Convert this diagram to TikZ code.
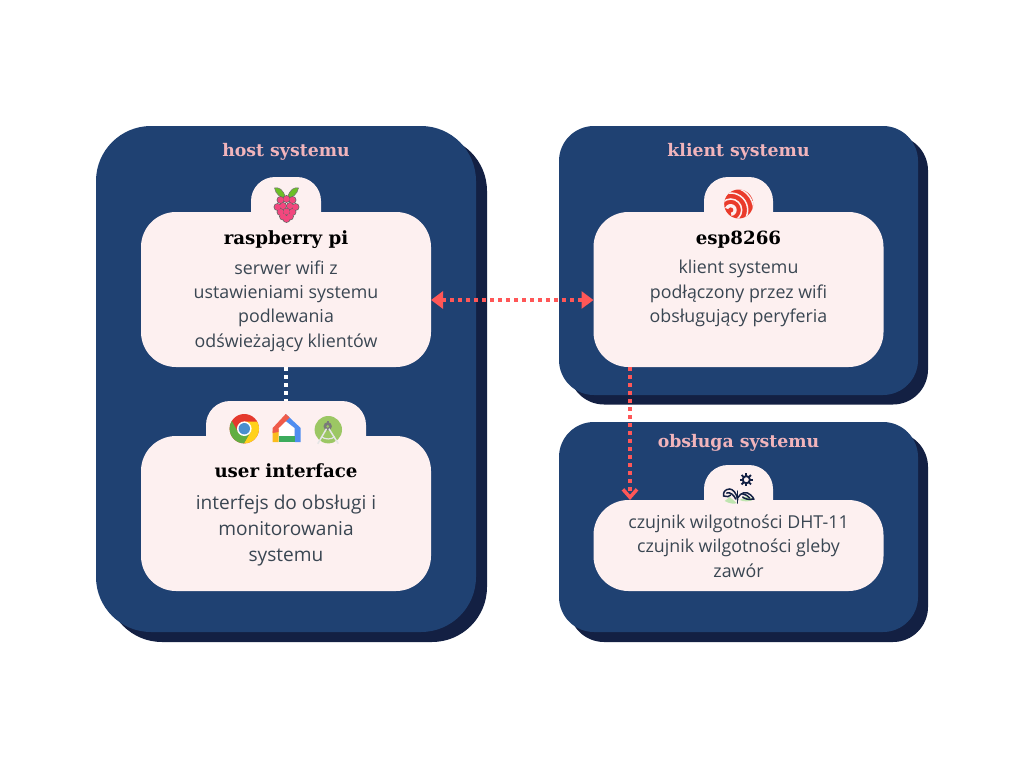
\documentclass[tikz,border=0pt]{standalone}
\usepackage{fontspec}
\usetikzlibrary{arrows.meta,calc}
\setmainfont{Open Sans}
\newfontfamily\slabfont[Scale=1]{DejaVu Serif}
\definecolor{panel}{HTML}{1F4172}
\definecolor{panelshadow}{HTML}{132043}
\definecolor{cardfill}{HTML}{FDF0F0}
\definecolor{titlepink}{HTML}{F1B4BB}
\definecolor{bodyink}{HTML}{3A4652}
\definecolor{linkred}{HTML}{FF5757}
\definecolor{gred}{HTML}{E5392D}
\definecolor{gyellow}{HTML}{FFD11A}
\definecolor{ggreen}{HTML}{62AE41}
\definecolor{gblue}{HTML}{4A8FCF}
\definecolor{hblue}{HTML}{4E8DF0}
\definecolor{hred}{HTML}{EF5B4A}
\definecolor{hyellow}{HTML}{FBBC1C}
\definecolor{hgreen}{HTML}{3CAB5C}
\definecolor{astudio}{HTML}{9CC764}
\definecolor{aplant}{HTML}{BFE5B0}
\definecolor{rleaf}{HTML}{6CBF26}
\definecolor{rpink}{HTML}{F2477E}
\definecolor{espred}{HTML}{EA3B2B}
\tikzset{
  x=1pt,y=-1pt,
  panelbox/.style={fill=panel,rounded corners=#1,inner sep=0,outer sep=0},
  shadowbox/.style={fill=panelshadow,rounded corners=#1,inner sep=0,outer sep=0},
  cardbox/.style={fill=cardfill,rounded corners=35pt,inner sep=0,outer sep=0,minimum width=290pt},
  tabbox/.style={fill=cardfill,rounded corners=24pt,inner sep=0,outer sep=0,minimum height=60pt},
  paneltitle/.style={font=\slabfont\bfseries\fontsize{17.3}{20}\selectfont,text=titlepink,inner sep=0},
  cardtitle/.style={font=\slabfont\bfseries\fontsize{18.2}{22}\selectfont,text=black,inner sep=0},
  cardtext/.style={font=\fontsize{17.8}{24.4}\selectfont,text=bodyink,align=center,inner sep=0},
  widetext/.style={cardtext,font=\fontsize{19.1}{26}\selectfont},
  reddots/.style={draw=linkred,line width=4pt,dash pattern=on 4pt off 4pt},
}
\begin{document}
\begin{tikzpicture}
\useasboundingbox (0,0) rectangle (1024,768);
\fill[white] (0,0) rectangle (1024,768);
% panels
\node[shadowbox=55pt,minimum width=380pt,minimum height=506pt] (hostshadow) at (297,389) {};
\node[panelbox=55pt,minimum width=380pt,minimum height=506pt] (host) at (286,379) {};
\node[shadowbox=35pt,minimum width=359pt,minimum height=269pt] (clientshadow) at (748.5,270) {};
\node[panelbox=35pt,minimum width=359pt,minimum height=269pt] (client) at (738.5,260.5) {};
\node[shadowbox=35pt,minimum width=359pt,minimum height=210pt] (serviceshadow) at (748.5,537) {};
\node[panelbox=35pt,minimum width=359pt,minimum height=210pt] (service) at (738.5,527) {};
% tabs
\node[tabbox,minimum width=70pt] (rpitab) at (286,207) {};
\node[tabbox,minimum width=160pt] (uitab) at (286,431) {};
\node[tabbox,minimum width=69pt] (esptab) at (738.5,207) {};
\node[tabbox,minimum width=69pt] (sensortab) at (738.5,495) {};
% cards
\node[cardbox,minimum height=155pt] (rpi) at (286,289.5) {};
\node[cardbox,minimum height=155pt] (ui) at (286,513.5) {};
\node[cardbox,minimum height=155pt] (esp) at (738.5,289.5) {};
\node[cardbox,minimum height=91pt] (sensor) at (738.5,545.5) {};
% connectors
\draw[draw=white,line width=4pt,dash pattern=on 4pt off 4pt] (rpi.south) -- (uitab.north);
\coordinate (linky) at (0,300);
\coordinate (linkx) at (630,0);
\draw[reddots,{Triangle[length=12pt,width=17pt]}-{Triangle[length=12pt,width=17pt]}] (rpi.east |- linky) -- (esp.west |- linky);
\draw[reddots,-{Straight Barb[length=8pt,width=14pt,line width=3.5pt]}] (esp.south -| linkx) -- (sensor.north -| linkx);
% texts
\node[paneltitle] (hosttitle) at (286,151.5) {host systemu};
\node[paneltitle] (clienttitle) at (738.5,151.5) {klient systemu};
\node[paneltitle] (servicetitle) at (738.5,442.5) {obsługa systemu};
\node[cardtitle] (rpititle) at (286,239.5) {raspberry pi};
\node[cardtitle] (uititle) at (286,471) {user interface};
\node[cardtitle] (esptitle) at (738.5,239.5) {esp8266};
\node[cardtext] (rpitext) at (286,306) {serwer wifi z\\ustawieniami systemu\\podlewania\\odświeżający klientów};
\node[widetext] (uitext) at (286,530.5) {interfejs do obsługi i\\monitorowania\\systemu};
\node[cardtext] (esptext) at (738.5,293.5) {klient systemu\\podłączony przez wifi\\obsługujący peryferia};
\node[cardtext] (sensortext) at (738.5,546) {czujnik wilgotności DHT-11\\czujnik wilgotności gleby\\zawór};
% raspberry icon
\begin{scope}[shift={(286.5,207)}]
  \fill[rleaf,draw=black!55,line width=.5pt] (-1,-9) .. controls (-3,-18) and (-8,-20) .. (-12,-19) .. controls (-11,-13) and (-6,-9) .. (-1,-9);
  \fill[rleaf,draw=black!55,line width=.5pt] (1,-9) .. controls (3,-18) and (8,-20) .. (12,-19) .. controls (11,-13) and (6,-9) .. (1,-9);
  \foreach \ax/\ay in {-6/-7,0/-8,6/-7,-9/0,-3.5/-1,3.5/-1,9/0,-6/5,0/4.5,6/5,-3.5/9.5,3.5/9.5,0/12}
    \fill[black!60] (\ax,\ay) circle (3.9);
  \foreach \ax/\ay in {-6/-7,0/-8,6/-7,-9/0,-3.5/-1,3.5/-1,9/0,-6/5,0/4.5,6/5,-3.5/9.5,3.5/9.5,0/12}
    \fill[rpink] (\ax,\ay) circle (3.1);
\end{scope}
% chrome icon
\begin{scope}[shift={(244.3,428.7)}]
  \begin{scope}
    \clip (0,0) circle (14.7);
    \fill[gred] (-20,-20) rectangle (20,20);
    \fill[gyellow] (0,-7) -- (20,-7) -- (20,25) -- (-6.3,25) -- (6.1,3.5) -- cycle;
    \fill[ggreen] (6.1,3.5) -- (-6.3,25) -- (-25,25) -- (-25,-18) -- (-18.5,-18) -- (-6.1,3.5) -- cycle;
  \end{scope}
  \fill[white] (0,0) circle (7.3);
  \fill[gblue] (0,0) circle (5.7);
\end{scope}
% home icon
\begin{scope}[shift={(286.7,428)}]
  \fill[white] (-8,14) -- (-8,1) -- (-1,-7) -- (8,1) -- (8,14) -- cycle;
  \fill[hblue] (-1,-14) -- (14,0) -- (14,14) -- (8,14) -- (8,0) -- (-1,-7) -- cycle;
  \fill[hyellow] (-14,3) -- (-8,1) -- (-8,14) -- (-14,14) -- cycle;
  \fill[hred] (-1,-14) -- (3,-10.5) -- (-8,0) -- (-8,4) -- (-14,5) -- (-14,0) -- cycle;
  \fill[hgreen] (-8,8) -- (8,8) -- (8,14) -- (-8,14) -- cycle;
\end{scope}
% android studio icon
\begin{scope}[shift={(328.3,429.7)}]
  \fill[astudio] (0,0) circle (13.7);
  \fill[black!52] (-0.6,-3.4) circle (4.2);
  \fill[black!52] (-1.8,-9) rectangle (0.6,-5);
  \fill[astudio] (-0.6,-3.4) circle (1.5);
  \draw[white!90!black,line width=1.5pt] (-1.8,-1) -- (-10.5,14) (0.6,-1) -- (10,14);
  \draw[white!90!black,line width=1.2pt] (-7,7) .. controls (-3,10) and (3,10) .. (6.5,7);
\end{scope}
% esp icon
\begin{scope}[shift={(738.7,204)}]
  \fill[espred] (0,0) circle (14.5);
  \begin{scope}
    \clip (0,0) circle (14.5);
    \clip (-8,6) -- (-30,-2) -- (-30,-30) -- (30,-30) -- (30,30) -- (-5,30) -- cycle;
    \foreach \rr in {11,17,23}
      \draw[cardfill,line width=1.5pt] (-8,6) circle (\rr);
    \fill[cardfill] (-8,6) circle (6);
  \end{scope}
  \fill[espred] (-8,6) circle (2.6);
\end{scope}
% plant icon
\begin{scope}[shift={(737.7,496)}]
  \fill[aplant] (-13,5) .. controls (-8,8) and (-3,8) .. (-1,7) -- (-8,1) -- cycle;
  \fill[aplant] (17,3) .. controls (12,6) and (6,6) .. (2,4) -- (9,0) -- cycle;
  \draw[panelshadow,line width=1.5pt,line cap=round] (0,7) -- (0,-5);
  \draw[panelshadow,line width=1.5pt,line cap=round] (0,4) .. controls (-1,-3) and (-5,-7) .. (-8,-7) .. controls (-13,-7) and (-15,-3) .. (-14,0) .. controls (-11,1) and (-8,1) .. (-7,-1);
  \draw[panelshadow,line width=1.5pt,line cap=round] (-11,-3) .. controls (-7,-4) and (-4,-1) .. (-2,3);
  \draw[panelshadow,line width=1.5pt,line cap=round] (0,2) .. controls (3,-4) and (9,-5) .. (13,-1) .. controls (15,1) and (16,2) .. (16,3) .. controls (11,4) and (7,3) .. (5,1);
  \draw[panelshadow,line width=1.5pt,line cap=round] (5,-2) .. controls (8,-2) and (10,0) .. (12,2);
\end{scope}
\begin{scope}[shift={(746.3,479.7)}]
  \draw[panelshadow,line width=1.9pt] (0,0) circle (3.6);
  \foreach \gx/\gy in {1/0,.71/.71,0/1,-.71/.71,-1/0,-.71/-.71,0/-1,.71/-.71}
    \draw[panelshadow,line width=1.8pt] (3.8*\gx,3.8*\gy) -- (6.6*\gx,6.6*\gy);
\end{scope}
\end{tikzpicture}
\end{document}
